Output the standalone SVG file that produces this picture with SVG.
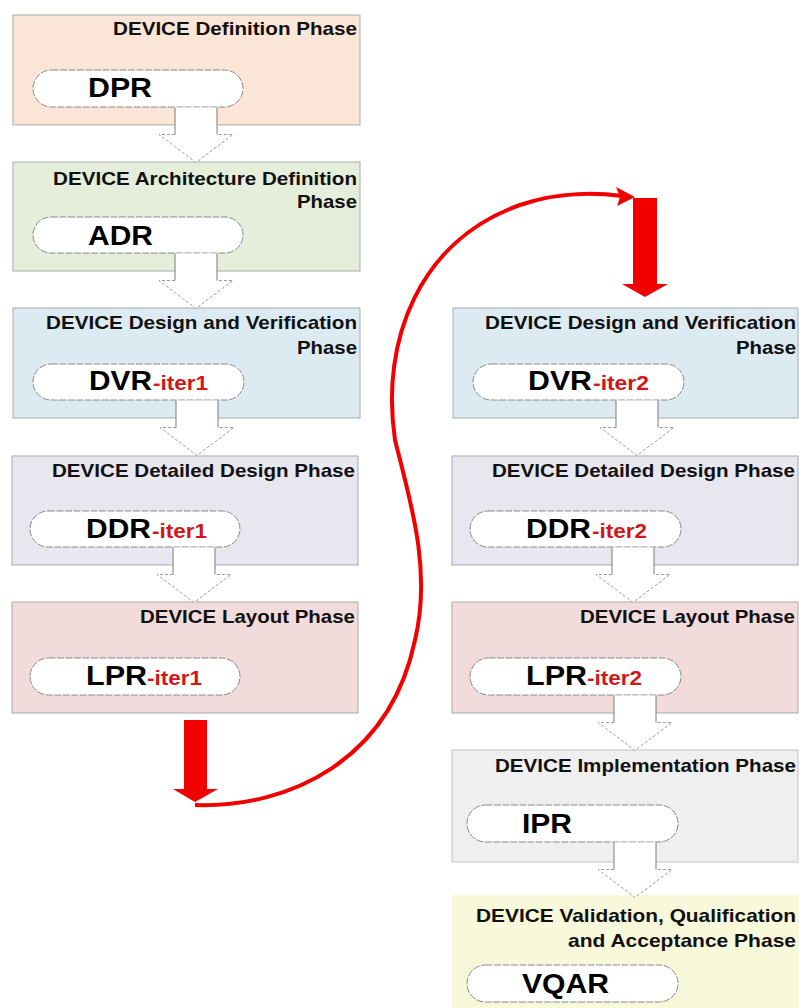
<svg xmlns="http://www.w3.org/2000/svg" width="799" height="1008" viewBox="0 0 799 1008">
<style>
text{font-family:"Liberation Sans",Arial,sans-serif;font-weight:bold}
.t{font-size:19px;fill:#111;text-anchor:end}
.p{font-size:27px;fill:#000}
.it{font-size:20px;fill:#d0171a}
.panel{stroke:#a9a9a9;stroke-width:1}
.pill{fill:#fff;stroke:#8a8a8a;stroke-width:1;stroke-dasharray:7 1.5}
.shaft{fill:#fff;stroke:none}
.sedge{fill:none;stroke:#7a7a7a;stroke-width:1}
.hedge{fill:none;stroke:#9a9a9a;stroke-width:1;stroke-dasharray:3 2}
.red{fill:#f20000}
</style>
<defs>
<g id="blk">
<polygon class="shaft" points="-21,0 21,0 21,27 37,27 0,55 -37,27 -21,27"/>
<path class="sedge" d="M-21,0V27M21,0V27"/>
<path class="hedge" d="M-21,27H-37L0,55L37,27H21"/>
</g>
</defs>

<!-- left column -->
<g id="dpr">
<rect class="panel" x="13" y="15" width="347" height="110" fill="#fbe5d6"/>
<text class="t" x="357" y="35" textLength="244" lengthAdjust="spacingAndGlyphs">DEVICE Definition Phase</text>
<rect class="pill" x="33" y="70" width="210" height="37" rx="18.5"/>
<text class="p" x="88" y="97" textLength="64" lengthAdjust="spacingAndGlyphs">DPR</text>
</g>
<g id="adr">
<rect class="panel" x="13" y="162" width="347" height="109" fill="#e5eedb"/>
<text class="t" x="357" y="185" textLength="304" lengthAdjust="spacingAndGlyphs">DEVICE Architecture Definition</text>
<text class="t" x="357" y="208" textLength="60" lengthAdjust="spacingAndGlyphs">Phase</text>
<rect class="pill" x="33" y="217" width="210" height="36" rx="18"/>
<text class="p" x="88" y="245" textLength="65" lengthAdjust="spacingAndGlyphs">ADR</text>
</g>
<g id="dvr1">
<rect class="panel" x="13" y="308" width="347" height="110" fill="#dcebf1"/>
<text class="t" x="357" y="329" textLength="311" lengthAdjust="spacingAndGlyphs">DEVICE Design and Verification</text>
<text class="t" x="357" y="354" textLength="60" lengthAdjust="spacingAndGlyphs">Phase</text>
<rect class="pill" x="33" y="364" width="211" height="36" rx="18"/>
<text class="p" x="89" y="390" textLength="63" lengthAdjust="spacingAndGlyphs">DVR</text>
<text class="it" x="153" y="390" textLength="55" lengthAdjust="spacingAndGlyphs">-iter1</text>
</g>
<g id="ddr1">
<rect class="panel" x="12" y="456" width="346" height="109" fill="#e8e7ef"/>
<text class="t" x="355" y="477" textLength="303" lengthAdjust="spacingAndGlyphs">DEVICE Detailed Design Phase</text>
<rect class="pill" x="30" y="511" width="210" height="36" rx="18"/>
<text class="p" x="86" y="538" textLength="65" lengthAdjust="spacingAndGlyphs">DDR</text>
<text class="it" x="152" y="538" textLength="55" lengthAdjust="spacingAndGlyphs">-iter1</text>
</g>
<g id="lpr1">
<rect class="panel" x="12" y="602" width="346" height="111" fill="#f1dcdb"/>
<text class="t" x="355" y="623" textLength="215" lengthAdjust="spacingAndGlyphs">DEVICE Layout Phase</text>
<rect class="pill" x="30" y="658" width="210" height="37" rx="18.5"/>
<text class="p" x="86" y="685" textLength="61" lengthAdjust="spacingAndGlyphs">LPR</text>
<text class="it" x="147" y="685" textLength="55" lengthAdjust="spacingAndGlyphs">-iter1</text>
</g>

<!-- right column -->
<g id="dvr2">
<rect class="panel" x="453" y="308" width="345" height="110" fill="#dcebf1"/>
<text class="t" x="796" y="329" textLength="311" lengthAdjust="spacingAndGlyphs">DEVICE Design and Verification</text>
<text class="t" x="796" y="354" textLength="60" lengthAdjust="spacingAndGlyphs">Phase</text>
<rect class="pill" x="473" y="364" width="211" height="36" rx="18"/>
<text class="p" x="528" y="390" textLength="64" lengthAdjust="spacingAndGlyphs">DVR</text>
<text class="it" x="593" y="390" textLength="56" lengthAdjust="spacingAndGlyphs">-iter2</text>
</g>
<g id="ddr2">
<rect class="panel" x="452" y="456" width="346" height="109" fill="#e8e7ef"/>
<text class="t" x="795" y="477" textLength="303" lengthAdjust="spacingAndGlyphs">DEVICE Detailed Design Phase</text>
<rect class="pill" x="470" y="511" width="211" height="36" rx="18"/>
<text class="p" x="526" y="538" textLength="65" lengthAdjust="spacingAndGlyphs">DDR</text>
<text class="it" x="592" y="538" textLength="55" lengthAdjust="spacingAndGlyphs">-iter2</text>
</g>
<g id="lpr2">
<rect class="panel" x="452" y="602" width="346" height="111" fill="#f1dcdb"/>
<text class="t" x="795" y="623" textLength="215" lengthAdjust="spacingAndGlyphs">DEVICE Layout Phase</text>
<rect class="pill" x="470" y="658" width="211" height="37" rx="18.5"/>
<text class="p" x="526" y="685" textLength="61" lengthAdjust="spacingAndGlyphs">LPR</text>
<text class="it" x="587" y="685" textLength="55" lengthAdjust="spacingAndGlyphs">-iter2</text>
</g>
<g id="ipr">
<rect x="452" y="750" width="346" height="112" fill="#efefef" stroke="#c4c4c4" stroke-width="1"/>
<text class="t" x="796" y="772" textLength="301" lengthAdjust="spacingAndGlyphs">DEVICE Implementation Phase</text>
<rect class="pill" x="467" y="805" width="211" height="37" rx="18.5"/>
<text class="p" x="522" y="833" textLength="50" lengthAdjust="spacingAndGlyphs">IPR</text>
</g>
<g id="vqar">
<rect x="452" y="895" width="347" height="113" fill="#f8f8da"/>
<text class="t" x="796" y="922" textLength="320" lengthAdjust="spacingAndGlyphs">DEVICE Validation, Qualification</text>
<text class="t" x="796" y="947" textLength="228" lengthAdjust="spacingAndGlyphs">and Acceptance Phase</text>
<rect class="pill" x="467" y="965" width="211" height="37" rx="18.5"/>
<text class="p" x="522" y="993" textLength="87" lengthAdjust="spacingAndGlyphs">VQAR</text>
</g>

<g id="connectors">
<use href="#blk" transform="translate(196,107.5)"/>
<use href="#blk" transform="translate(196,253.5)"/>
<use href="#blk" transform="translate(197,400.5)"/>
<use href="#blk" transform="translate(194,547.5)"/>
<use href="#blk" transform="translate(637,400.5)"/>
<use href="#blk" transform="translate(633,547.5)"/>
<use href="#blk" transform="translate(635,695.5)"/>
<use href="#blk" transform="translate(635,842.5)"/>
<polygon class="red" points="184,720 207,720 207,789 218,789 195,802 173,789 184,789"/>
<path d="M195,805 C290,808 390,760 415,640 C432,570 410,500 395,440 C380,340 420,240 520,205 C560,191 600,193 622,196" fill="none" stroke="#f20000" stroke-width="4"/>
<polygon class="red" points="635,197 616,187 620,197 617,206"/>
<polygon class="red" points="633,198 657,198 657,284 668,284 645,297 622,284 633,284"/>
</g>
</svg>
